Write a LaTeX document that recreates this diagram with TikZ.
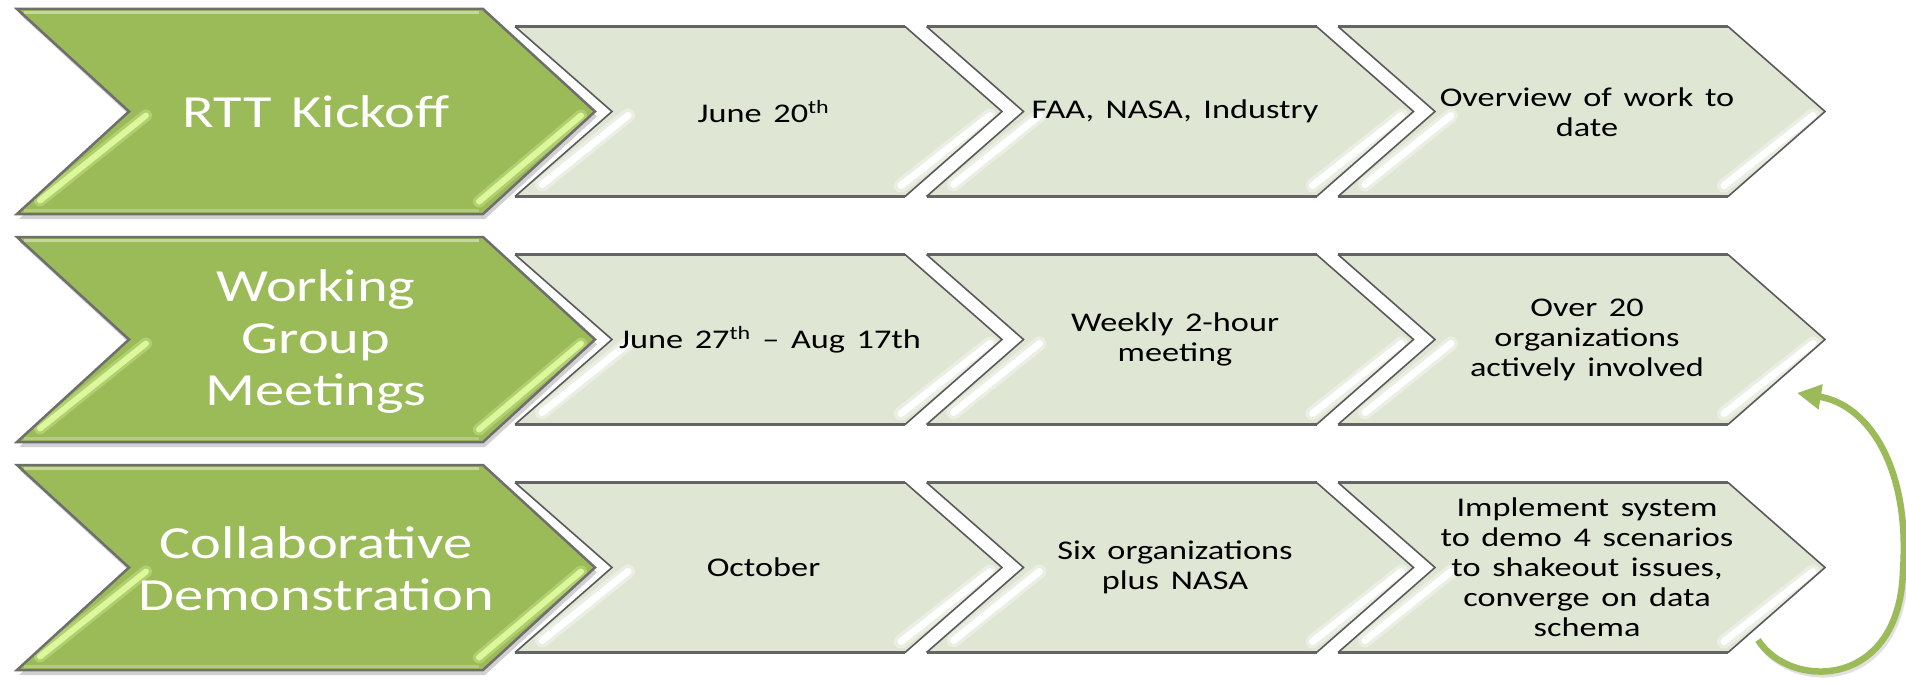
\documentclass[tikz,border=0pt]{standalone}
\usepackage{fontspec}
\setmainfont{Carlito}[FakeStretch=1.27,WordSpace=1.5]
\usetikzlibrary{arrows.meta}
\definecolor{olive}{HTML}{9BBB59}
\definecolor{olivelight}{HTML}{C4D79E}
\definecolor{olivebot}{HTML}{B3CB82}
\definecolor{oliveglow}{HTML}{DCF79C}
\definecolor{pale}{HTML}{E0E6D4}
\definecolor{edgegray}{HTML}{646464}
\definecolor{diaggray}{HTML}{5A5A5A}
\definecolor{greenedge}{HTML}{6E6E6E}
\tikzset{
  greentext/.style={text=white,align=center,font=\fontsize{46}{52}\selectfont},
  paletext/.style={text=black,align=center,font=\fontsize{27}{30}\selectfont},
  loopArrow/.style={olive,line width=6.5pt,-{Triangle[length=24pt,width=24pt]}},
}
% light chevron: #1 = left x, #2 = centre y
\newcommand\palechev[2]{%
  \fill[pale] (#1,#2-85) -- (#1+390,#2-85) -- (#1+487,#2) -- (#1+390,#2+85) -- (#1,#2+85) -- (#1+97,#2) -- cycle;
  \draw[white,line width=14pt,opacity=0.35,line cap=round] (#1+113,#2+4) -- (#1+27,#2+73);
  \draw[white,line width=7pt,line cap=round] (#1+113,#2+4) -- (#1+27,#2+73);
  \draw[white,line width=14pt,opacity=0.35,line cap=round] (#1+475,#2+4) -- (#1+386,#2+74);
  \draw[white,line width=7pt,line cap=round] (#1+475,#2+4) -- (#1+386,#2+74);
  \draw[edgegray,line width=3pt] (#1,#2-85) -- (#1+390,#2-85);
  \draw[edgegray,line width=3pt] (#1,#2+85) -- (#1+390,#2+85);
  \draw[diaggray,line width=1.6pt,line join=miter] (#1+390,#2-85) -- (#1+487,#2) -- (#1+390,#2+85);
  \draw[diaggray,line width=1.6pt,line join=miter] (#1,#2-85) -- (#1+97,#2) -- (#1,#2+85);
}
% green chevron: #1 = centre y
\newcommand\greenchev[1]{%
  \fill[black,opacity=0.18] (19,#1-98) -- (485,#1-98) -- (597,#1+5) -- (485,#1+107.5) -- (19,#1+107.5) -- (131,#1+5) -- cycle;
  \fill[olive] (17,#1-102.5) -- (483,#1-102.5) -- (595,#1) -- (483,#1+102.5) -- (17,#1+102.5) -- (129,#1) -- cycle;
  \draw[olivelight,line width=3pt] (24,#1-99) -- (479,#1-99);
  \draw[olivebot,line width=3pt] (24,#1+99) -- (479,#1+99);
  \draw[oliveglow,line width=12pt,opacity=0.35,line cap=round] (146,#1+4) -- (40,#1+89);
  \draw[oliveglow,line width=6pt,line cap=round] (146,#1+4) -- (40,#1+89);
  \draw[oliveglow,line width=12pt,opacity=0.35,line cap=round] (581,#1+4) -- (479,#1+90);
  \draw[oliveglow,line width=6pt,line cap=round] (581,#1+4) -- (479,#1+90);
  \draw[greenedge,line width=2.5pt,line join=miter] (17,#1-102.5) -- (483,#1-102.5) -- (595,#1) -- (483,#1+102.5) -- (17,#1+102.5) -- (129,#1) -- cycle;
}
\begin{document}
\begin{tikzpicture}[x=1pt,y=-1pt]
\useasboundingbox (0,0) rectangle (1906,682);
\fill[white] (0,0) rectangle (1906,682);
% row 1
\palechev{515}{111.5}
\palechev{926.5}{111.5}
\palechev{1338}{111.5}
\greenchev{111.5}
% row 2
\palechev{515}{339.5}
\palechev{926.5}{339.5}
\palechev{1338}{339.5}
\greenchev{339.5}
% row 3
\palechev{515}{567.5}
\palechev{926.5}{567.5}
\palechev{1338}{567.5}
\greenchev{567.5}
% texts
\node[greentext] (g1) at (316,111.5) {RTT Kickoff};
\node[greentext] (g2) at (316,341) {Working\\Group\\Meetings};
\node[greentext] (g3) at (316,568.5) {Collaborative\\Demonstration};
\node[paletext] (a1) at (763.5,111.5) {June 20\textsuperscript{th}};
\node[paletext] (b1) at (1175,111.5) {FAA, NASA, Industry};
\node[paletext] (c1) at (1587,112) {Overview of work to\\date};
\node[paletext] (a2) at (770,339.5) {June 27\textsuperscript{th} – Aug 17th};
\node[paletext] (b2) at (1175,339.5) {Weekly 2-hour\\meeting};
\node[paletext] (c2) at (1587,339.5) {Over 20\\organizations\\actively involved};
\node[paletext] (a3) at (763.5,567.5) {October};
\node[paletext] (b3) at (1175,567.5) {Six organizations\\plus NASA};
\node[paletext] (c3) at (1587,567.5) {Implement system\\to demo 4 scenarios\\to shakeout issues,\\converge on data\\schema};
% loop arrow
\coordinate (loopStart) at (1758,640);
\coordinate (loopEnd) at (1797,393);
\draw[black,opacity=0.12,line width=6pt] ([shift={(2,3)}]loopStart) .. controls (1792,693) and (1902,693) .. (1905,573);
\draw[loopArrow] (loopStart) .. controls (1790,690) and (1900,690) .. (1903,570) .. controls (1910,470) and (1870,405) .. (loopEnd);
\end{tikzpicture}
\end{document}
